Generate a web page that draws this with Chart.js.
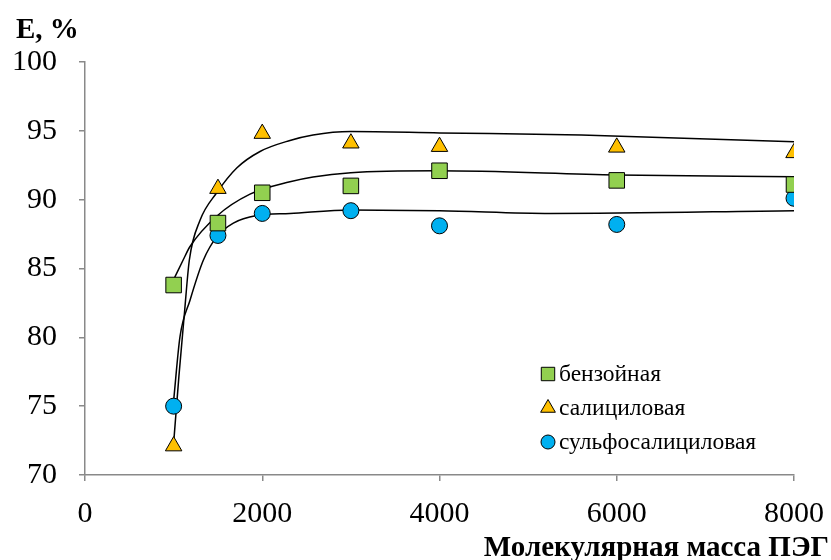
<!DOCTYPE html>
<html lang="ru">
<head>
    <meta charset="UTF-8">
    <title>E vs PEG</title>
    <style>
        body { margin: 0; background: #fff; }
        canvas { display: block; }
    </style>
</head>
<body>
    <canvas id="pegChart" width="831" height="560"></canvas>
    <script src="https://cdn.jsdelivr.net/npm/chart.js"></script>
    <script>
        // measured points
        const massX = [1000, 1500, 2000, 3000, 4000, 6000, 8000];
        const benzoic = [83.8, 88.3, 90.5, 91.0, 92.1, 91.4, 91.1];
        const salicylic = [72.1, 90.8, 94.8, 94.1, 93.85, 93.8, 93.4];
        const sulfo = [75.0, 87.4, 89.0, 89.2, 88.1, 88.2, 90.1];

        // trend lines
        const trendBenzX = [1000, 1106, 1185, 1486, 1862, 2313, 2573, 3000, 3970, 6000, 8000];
        const trendBenzY = [84.2, 85.6, 86.6, 88.8, 90.4, 91.3, 91.65, 91.96, 92.1, 91.8, 91.67];
        const trendSalX = [1000, 1060, 1120, 1177, 1298, 1486, 1712, 1975, 2313, 2573, 3000, 4000, 5600, 8000];
        const trendSalY = [72.3, 77.2, 81.6, 85.6, 88.5, 90.5, 92.3, 93.5, 94.3, 94.7, 94.95, 94.85, 94.7, 94.2];
        const trendSulfoX = [1000, 1072, 1185, 1335, 1486, 1674, 1937, 2313, 3000, 4000, 5250, 8000];
        const trendSulfoY = [75.4, 80.05, 82.7, 85.6, 87.3, 88.3, 88.85, 89.0, 89.25, 89.2, 89.0, 89.2];

        const legendNames = ["бензойная", "салициловая", "сульфосалициловая"];
        const yTitle = "E, %";
        const xTitle = "Молекулярная масса ПЭГ";

        const serif = "'Liberation Serif', 'Times New Roman', serif";
        const axisGrey = "#898989";

        function toPoints(xs, ys) {
            return xs.map((x, i) => ({ x: x, y: ys[i] }))
        }

        function trendSet(xs, ys) {
            return {
                data: toPoints(xs, ys),
                showLine: true,
                borderColor: "#000",
                borderWidth: 1.5,
                pointRadius: 0,
                cubicInterpolationMode: "monotone",
                order: 5
            }
        }

        const markers = [
            { style: "rect", color: "#92D050", radius: 11, legendRadius: 9.5 },
            { style: "triangle", color: "#FFC000", radius: 9.5, legendRadius: 8.5 },
            { style: "circle", color: "#00B0F0", radius: 8, legendRadius: 7 }
        ];
        const seriesValues = [benzoic, salicylic, sulfo];

        const pointSets = seriesValues.map((vals, i) => ({
            label: legendNames[i],
            data: toPoints(massX, vals),
            showLine: false,
            pointStyle: markers[i].style,
            pointRadius: markers[i].radius,
            pointHoverRadius: markers[i].radius,
            backgroundColor: markers[i].color,
            borderColor: "#000",
            borderWidth: 1,
            order: 1
        }));

        const extraText = {
            id: "extraText",
            afterDraw(chart) {
                const ctx = chart.ctx;
                ctx.save();
                ctx.fillStyle = "#000";
                ctx.font = "bold 29px " + serif;
                ctx.textBaseline = "alphabetic";
                ctx.textAlign = "left";
                ctx.fillText(yTitle, 16, 38);
                ctx.textAlign = "right";
                ctx.font = "bold 29px " + serif;
                ctx.fillText(xTitle, 829, 556);

                // legend
                ctx.font = "23.5px " + serif;
                ctx.textAlign = "left";
                ctx.textBaseline = "middle";
                for (let i = 0; i < legendNames.length; i++) {
                    const cy = 374 + i * 34;
                    ctx.fillStyle = markers[i].color;
                    ctx.strokeStyle = "#000";
                    ctx.lineWidth = 1;
                    Chart.helpers.drawPoint(ctx, {
                        pointStyle: markers[i].style,
                        radius: markers[i].legendRadius,
                        rotation: 0,
                        borderWidth: 1
                    }, 548, cy);
                    ctx.fillStyle = "#000";
                    ctx.fillText(legendNames[i], 559, cy + 1);
                }
                ctx.restore();
            }
        };

        const ctxEl = document.getElementById("pegChart");
        new Chart(ctxEl, {
            type: "scatter",
            data: {
                datasets: [
                    trendSet(trendBenzX, trendBenzY),
                    trendSet(trendSalX, trendSalY),
                    trendSet(trendSulfoX, trendSulfoY),
                    ...pointSets
                ]
            },
            options: {
                responsive: false,
                animation: false,
                layout: { padding: { top: 62, right: 37, bottom: 0, left: 0 } },
                plugins: {
                    legend: { display: false },
                    tooltip: { enabled: false }
                },
                scales: {
                    x: {
                        type: "linear",
                        min: 0,
                        max: 8000,
                        ticks: {
                            stepSize: 2000,
                            color: "#000",
                            padding: 15,
                            maxRotation: 0,
                            font: { family: serif, size: 30 },
                            callback: (v) => String(v)
                        },
                        grid: {
                            drawOnChartArea: false,
                            color: axisGrey,
                            tickLength: 6,
                            lineWidth: 1.5
                        },
                        border: { color: axisGrey, width: 1.5 },
                        afterFit(scale) {
                            scale.height = 85;
                            scale.paddingLeft = 0;
                            scale.paddingRight = 0;
                        }
                    },
                    y: {
                        min: 70,
                        max: 100,
                        ticks: {
                            stepSize: 5,
                            color: "#000",
                            padding: 22,
                            font: { family: serif, size: 30 }
                        },
                        grid: {
                            drawOnChartArea: false,
                            color: axisGrey,
                            tickLength: 6,
                            lineWidth: 1.5
                        },
                        border: { color: axisGrey, width: 1.5 },
                        afterFit(scale) { scale.width = 85; }
                    }
                }
            },
            plugins: [extraText]
        });
    </script>
</body>
</html>
